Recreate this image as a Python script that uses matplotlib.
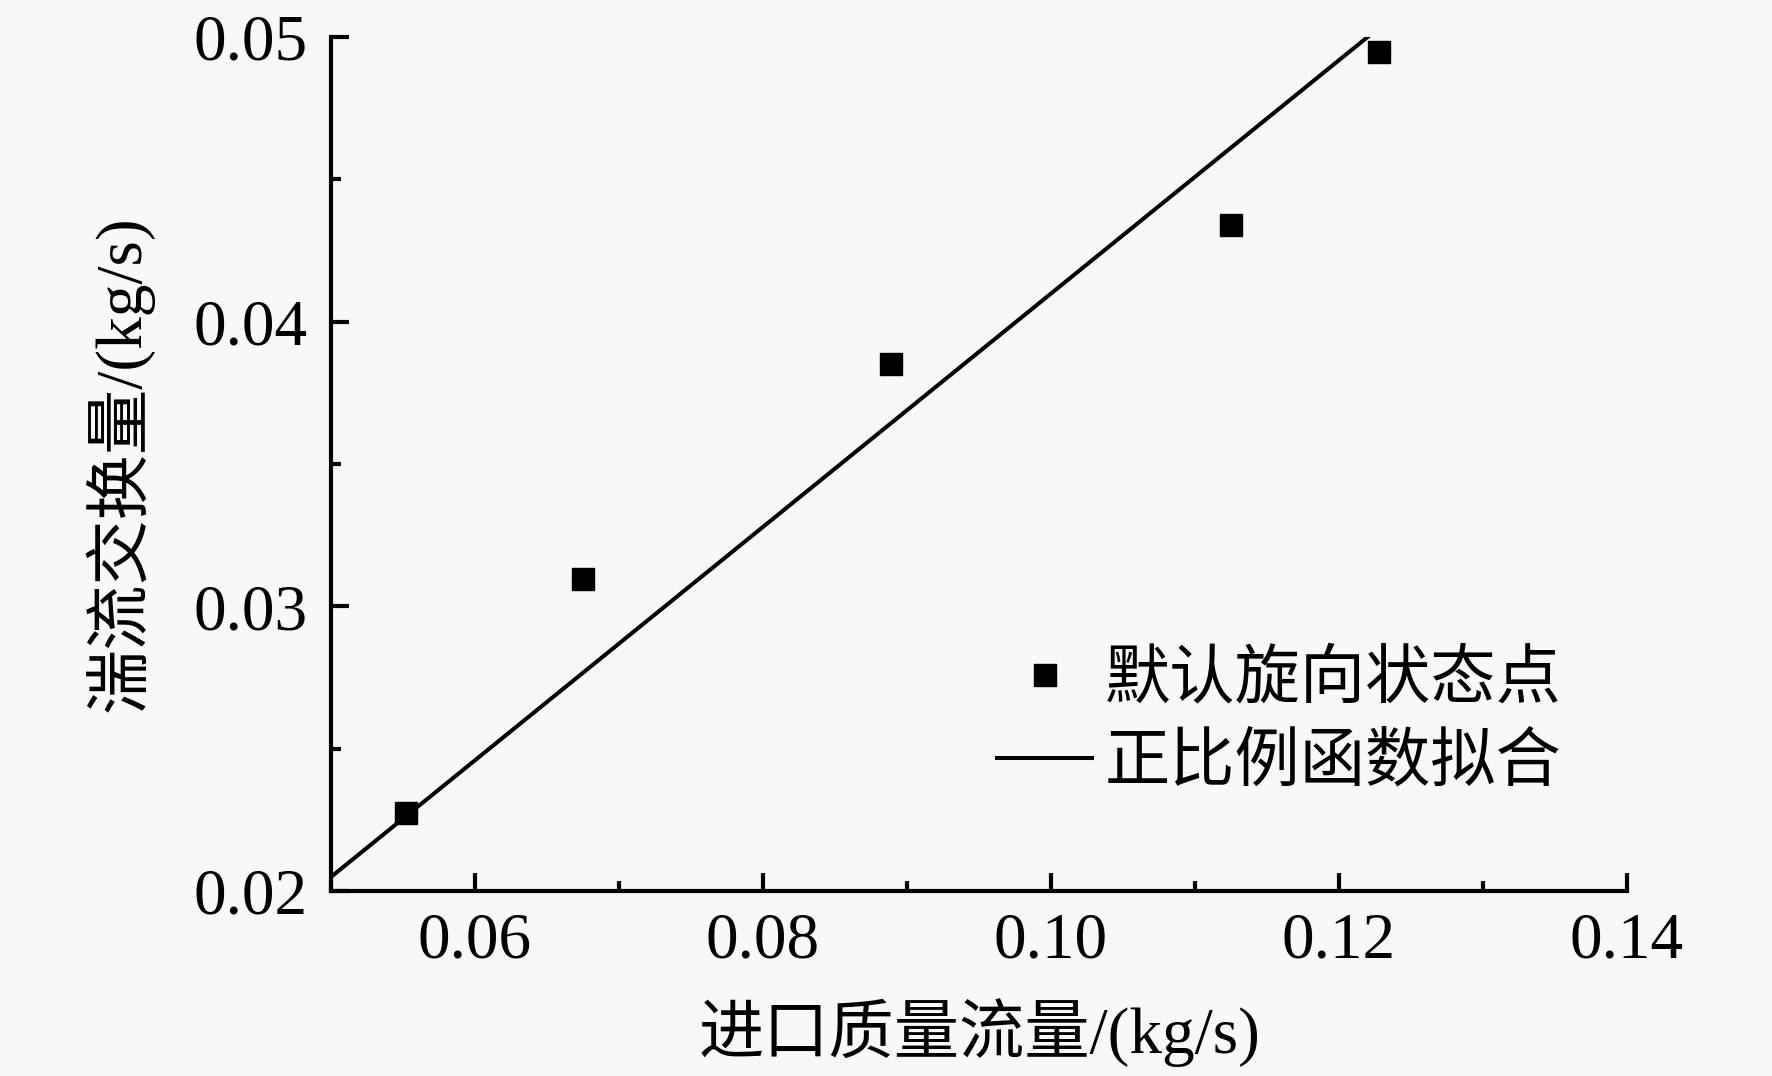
import numpy as np
import matplotlib
matplotlib.use("Agg")
import matplotlib.pyplot as plt
from matplotlib.ticker import MultipleLocator, FormatStrFormatter

plt.rcParams['font.family'] = ['Liberation Serif', 'Noto Sans CJK SC']
plt.rcParams['axes.unicode_minus'] = False

# data
inlet_flow = [0.0552, 0.0675, 0.0889, 0.1125, 0.1228]     # kg/s
exchange_flow = [0.02275, 0.03095, 0.0385, 0.0434, 0.04947]  # kg/s

x_label = '进口质量流量/(kg/s)'
y_label = '湍流交换量/(kg/s)'
point_label = '默认旋向状态点'
fit_label = '正比例函数拟合'

bg = '#f8f8f8'
fs = 47

# proportional fit y = k*x (least squares through origin)
xd = np.array(inlet_flow)
yd = np.array(exchange_flow)
k = np.sum(xd * yd) / np.sum(xd * xd)
x_fit = np.array([0.05, 0.14])

fig = plt.figure(figsize=(17.72, 10.76), dpi=100, facecolor=bg)
ax = fig.add_axes([0.1868, 0.1719, 0.7314, 0.7937], facecolor=bg)

ax.plot(xd, yd, 's', color='black', markersize=16, label=point_label, zorder=3)
ax.plot(x_fit, k * x_fit, '-', color='black', linewidth=2.9, label=fit_label)

ax.set_xlim(0.05, 0.14)
ax.set_ylim(0.02, 0.05)
ax.xaxis.set_major_locator(MultipleLocator(0.02))
ax.xaxis.set_minor_locator(MultipleLocator(0.01))
ax.yaxis.set_major_locator(MultipleLocator(0.01))
ax.yaxis.set_minor_locator(MultipleLocator(0.005))
ax.xaxis.set_major_formatter(FormatStrFormatter('%.2f'))
ax.yaxis.set_major_formatter(FormatStrFormatter('%.2f'))

for side in ['top', 'right']:
    ax.spines[side].set_visible(False)
for side in ['left', 'bottom']:
    ax.spines[side].set_linewidth(3.0)

ax.tick_params(which='major', direction='in', length=13, width=3.0, labelsize=fs)
ax.tick_params(which='minor', direction='in', length=7.5, width=3.0)
ax.tick_params(axis='x', which='major', pad=15)
ax.tick_params(axis='y', which='major', pad=17)

ax.set_xlabel(x_label, fontsize=fs)
ax.set_ylabel(y_label, fontsize=fs)
ax.xaxis.set_label_coords(0.5, -0.125)
ax.yaxis.set_label_coords(-0.137, 0.5)

ax.legend(loc='lower left', bbox_to_anchor=(0.514, 0.113), frameon=False,
          fontsize=fs, numpoints=1, handlelength=1.45, handletextpad=0.2,
          labelspacing=0.34, borderpad=0, borderaxespad=0)

fig.savefig('out.png', dpi=100, facecolor=bg)
